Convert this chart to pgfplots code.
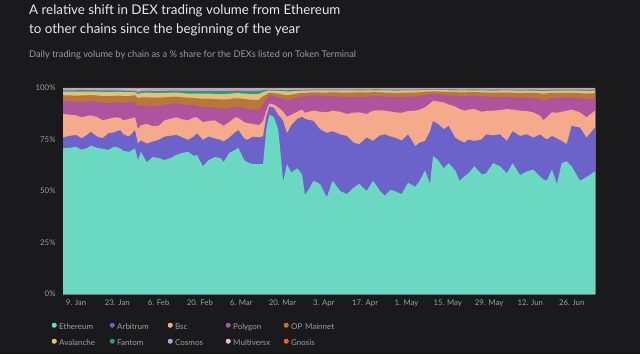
\documentclass[border=0pt]{standalone}
\usepackage{pgfplots}
\pgfplotsset{compat=1.18}
\usepackage{pgfplotstable}
\usepackage{fontspec}
\setmainfont{Lato}
\definecolor{bg}{HTML}{1A1A1C}
\definecolor{titletxt}{HTML}{E8E8E8}
\definecolor{subtxt}{HTML}{9C9C9C}
\definecolor{ticktxt}{HTML}{A0A0A0}
\definecolor{eth}{HTML}{6BD9C2}
\definecolor{arb}{HTML}{6B63C9}
\definecolor{bsc}{HTML}{F5AA8C}
\definecolor{pol}{HTML}{B0539E}
\definecolor{opm}{HTML}{B97838}
\definecolor{ava}{HTML}{E5C07B}
\definecolor{fan}{HTML}{2F9A72}
\definecolor{cos}{HTML}{A3A9E6}
\definecolor{mvx}{HTML}{E9B7DA}
\definecolor{gno}{HTML}{E0663A}
% cumulative upper boundaries (%) of each chain's layer, by day of 2023 (1 Jan = 0)
\pgfplotstableread{
d E A B P O V F C M G
3.6 70.7 76.0 87.4 93.8 96.5 98.3 98.9 99.5 99.85 100
6 71.0 76.8 87.0 93.6 96.4 98.2 98.9 99.5 99.85 100
8 71.5 77.2 86.7 93.4 96.3 98.2 98.9 99.5 99.85 100
10 70.0 75.6 85.8 93.2 96.4 98.3 99.0 99.5 99.85 100
12 71.0 77.5 86.5 93.5 96.5 98.3 99.0 99.5 99.85 100
13 72.0 78.8 86.7 93.8 96.6 98.3 99.0 99.5 99.85 100
15 71.0 76.5 86.0 93.3 96.4 98.2 98.9 99.5 99.85 100
17 70.5 75.6 84.3 92.8 96.1 98.1 98.8 99.5 99.85 100
19 70.0 78.0 85.0 92.6 96.0 98.0 98.8 99.5 99.85 100
21 71.5 78.5 85.8 93.0 96.2 98.1 98.8 99.5 99.85 100
23 70.7 79.6 85.5 93.2 96.3 98.2 98.9 99.5 99.85 100
24 69.5 77.5 84.3 92.6 96.0 98.0 98.7 99.3 99.8 100
26 69.0 76.4 85.0 92.8 96.1 98.0 98.7 99.2 99.8 100
28 70.7 79.6 85.8 93.5 96.5 98.0 98.6 99.4 99.8 100
29 65.0 73.0 80.1 91.0 95.0 97.0 97.8 98.8 99.7 100
30 69.0 74.5 82.0 91.5 95.4 97.6 98.4 99.3 99.8 100
32 64.0 73.0 82.5 91.5 95.5 97.8 98.6 99.4 99.8 100
34 66.5 74.0 81.5 91.3 95.3 97.6 98.5 99.4 99.8 100
36 66.0 74.8 81.7 91.5 95.3 97.5 98.5 99.4 99.8 100
38 65.0 76.4 84.3 92.0 95.5 97.6 98.6 99.4 99.8 100
40 66.0 76.8 85.0 92.3 95.7 97.7 98.7 99.5 99.8 100
42 67.5 77.2 85.8 92.5 95.8 97.8 98.7 99.5 99.8 100
44 68.5 76.0 84.8 92.0 95.5 97.5 98.6 99.5 99.8 100
46 69.0 74.8 84.3 91.8 95.3 97.3 98.6 99.5 99.8 100
48 67.0 76.5 85.8 91.8 95.1 97.3 98.6 99.5 99.8 100
49 67.5 78.0 85.8 91.5 95.0 97.3 98.6 99.5 99.8 100
51 62.0 74.8 83.4 90.5 94.7 97.2 98.5 99.5 99.8 100
53 65.0 76.4 84.0 90.8 94.8 97.3 98.6 99.5 99.8 100
55 66.5 75.5 84.3 90.5 94.6 97.1 98.5 99.5 99.8 100
57 66.0 74.8 82.5 90.0 94.5 97.0 98.5 99.5 99.8 100
58 64.0 74.0 81.7 89.8 94.4 97.0 98.5 99.5 99.8 100
60 68.5 76.0 83.5 90.3 94.6 97.2 98.6 99.5 99.8 100
62 70.0 78.5 85.8 91.0 95.0 97.5 98.7 99.5 99.8 100
63 71.0 79.6 85.5 91.0 95.0 97.5 98.7 99.5 99.8 100
65 65.0 75.5 83.4 90.3 94.7 97.3 98.6 99.5 99.8 100
66 64.0 74.8 83.0 90.0 94.5 97.2 98.6 99.5 99.8 100
68 63.0 76.4 82.5 89.5 94.2 97.0 98.5 99.5 99.8 100
70 63.0 76.0 82.0 89.5 94.3 97.1 98.6 99.5 99.8 100
71.4 63.0 76.5 84.0 92.0 96.0 98.0 98.9 99.5 99.8 100
72.5 80.0 86.0 89.0 94.5 96.8 98.5 99.0 99.6 99.85 100
73.5 87.0 91.0 92.5 96.5 97.8 98.8 99.1 99.6 99.85 100
75 86.0 90.5 92.0 96.0 97.5 98.7 99.1 99.6 99.85 100
76.5 80.0 87.0 90.6 95.5 97.3 98.6 99.0 99.6 99.85 100
77.5 66.0 85.5 89.5 95.0 97.0 98.5 99.0 99.6 99.85 100
78.2 54.5 84.0 88.5 94.5 96.8 98.4 98.9 99.6 99.85 100
79.5 63.0 78.0 86.0 94.0 96.5 98.3 98.9 99.6 99.85 100
81 59.0 82.0 87.0 94.5 96.8 98.4 99.0 99.6 99.85 100
83 61.0 85.0 88.5 95.5 97.3 98.6 99.0 99.6 99.85 100
84.6 58.0 86.0 89.5 96.0 97.6 98.7 99.1 99.6 99.85 100
85.6 48.0 85.0 88.0 95.8 97.5 98.7 99.1 99.6 99.85 100
87 51.0 84.5 88.5 96.2 97.8 98.8 99.2 99.6 99.85 100
88.5 55.0 84.0 89.0 96.5 97.9 98.8 99.2 99.6 99.85 100
90.7 53.4 80.0 88.5 96.3 97.8 98.8 99.2 99.6 99.85 100
93 47.0 78.2 88.2 96.0 97.8 98.8 99.2 99.6 99.85 100
95 55.0 79.0 89.0 96.0 97.9 98.8 99.2 99.6 99.85 100
97.5 50.0 77.5 88.5 95.8 97.8 98.8 99.2 99.6 99.85 100
99.8 48.5 76.7 87.4 95.5 97.7 98.8 99.2 99.6 99.85 100
102 51.5 73.5 88.0 95.6 97.8 98.8 99.2 99.6 99.85 100
104 53.4 72.7 88.2 95.8 97.9 98.9 99.3 99.6 99.85 100
106.5 50.0 75.9 87.4 95.7 97.8 98.8 99.2 99.6 99.85 100
108.7 55.0 74.3 89.0 96.0 98.0 98.9 99.3 99.6 99.85 100
111 50.0 77.0 89.2 96.0 97.9 98.9 99.3 99.6 99.85 100
112.7 47.7 77.5 89.0 95.8 97.8 98.8 99.2 99.6 99.85 100
114.5 50.5 76.5 88.6 95.6 97.7 98.8 99.2 99.6 99.85 100
116 50.0 75.9 88.2 95.5 97.6 98.7 99.2 99.6 99.85 100
118.4 48.5 74.5 88.0 95.6 97.7 98.8 99.2 99.6 99.85 100
120.5 54.0 77.5 88.8 95.8 97.8 98.8 99.2 99.6 99.85 100
123 52.0 71.8 89.0 95.8 97.8 98.8 99.2 99.6 99.85 100
124.5 55.0 73.5 89.5 96.0 97.9 98.9 99.3 99.6 99.85 100
126.3 60.0 74.3 90.6 96.5 98.2 99.0 99.3 99.6 99.85 100
128 53.4 79.0 92.5 97.0 98.3 99.0 99.3 99.6 99.85 100
129 67.0 84.0 93.8 97.2 98.4 99.1 99.4 99.7 99.85 100
130.7 65.0 82.5 93.5 97.0 98.3 99.0 99.3 99.6 99.85 100
132.6 61.0 80.0 93.0 96.8 98.2 99.0 99.3 99.6 99.85 100
134.3 63.5 81.6 92.0 96.5 98.1 98.9 99.3 99.6 99.85 100
136.5 60.0 75.9 91.0 96.3 98.0 98.9 99.3 99.6 99.85 100
138 55.0 74.5 89.8 96.0 97.9 98.8 99.2 99.6 99.85 100
139.6 57.0 73.5 89.0 96.0 97.9 98.8 99.2 99.6 99.85 100
141 58.6 75.0 89.5 96.2 98.0 98.9 99.3 99.6 99.85 100
143 62.0 74.3 89.8 96.3 98.0 98.9 99.3 99.6 99.85 100
145.5 58.0 75.0 88.5 96.0 97.9 98.8 99.2 99.6 99.85 100
147 58.6 77.5 88.8 95.8 97.8 98.8 99.2 99.6 99.85 100
149.4 63.5 77.0 89.0 95.5 97.7 98.7 99.2 99.6 99.85 100
151.7 62.0 77.5 89.3 95.6 97.7 98.8 99.2 99.6 99.85 100
154 58.6 74.3 89.8 95.8 97.8 98.8 99.2 99.6 99.85 100
156 63.5 79.0 89.5 95.5 97.7 98.8 99.2 99.6 99.85 100
158.5 57.7 76.7 89.0 95.3 97.6 98.7 99.1 99.6 99.85 100
160.8 59.5 77.5 88.8 95.5 97.7 98.8 99.2 99.6 99.85 100
163 60.4 75.9 88.2 95.2 97.6 98.7 99.2 99.6 99.85 100
165.3 57.0 77.5 86.5 94.8 97.4 98.6 99.1 99.6 99.85 100
166.5 55.5 76.0 84.3 94.0 97.2 98.5 99.0 99.6 99.85 100
167.6 55.0 75.0 86.0 94.5 97.4 98.6 99.1 99.6 99.85 100
169.3 60.4 76.7 88.2 95.2 97.6 98.7 99.2 99.6 99.85 100
171 53.4 75.5 88.0 95.3 97.6 98.7 99.2 99.6 99.85 100
172.6 63.5 74.3 88.5 95.5 97.7 98.8 99.2 99.6 99.85 100
174.3 64.4 72.7 89.0 95.3 97.6 98.7 99.2 99.6 99.85 100
176 62.0 81.6 89.5 95.5 97.7 98.8 99.2 99.6 99.85 100
178.8 55.0 80.8 88.2 95.0 97.5 98.7 99.2 99.6 99.85 100
181 56.8 75.9 85.8 94.5 97.3 98.6 99.1 99.6 99.85 100
183.9 59.5 80.8 89.0 95.0 97.5 98.7 99.2 99.6 99.85 100
}\shares
\begin{document}
\begin{tikzpicture}[x=1bp,y=1bp]
\fill[bg] (0,0) rectangle (640,354);
\node[anchor=base west, inner sep=0pt, text=titletxt, font=\fontsize{13.4}{16}\selectfont] at (29,340) {A relative shift in DEX trading volume from Ethereum};
\node[anchor=base west, inner sep=0pt, text=titletxt, font=\fontsize{13.4}{16}\selectfont] at (29,321) {to other chains since the beginning of the year};
\node[anchor=base west, inner sep=0pt, text=subtxt, font=\fontsize{9.3}{11}\selectfont] at (29,297) {Daily trading volume by chain as a \% share for the DEXs listed on Token Terminal};
\begin{axis}[
  at={(63bp,60bp)}, anchor=south west,
  scale only axis, width=532bp, height=206bp,
  xmin=3.6, xmax=183.9, ymin=0, ymax=100,
  axis line style={draw=none},
  major tick length=0pt,
  xtick={8,22,36,50,64,78,92,106,120,134,148,162,176},
  xticklabels={9. Jan,23. Jan,6. Feb,20. Feb,6. Mar,20. Mar,3. Apr,17. Apr,1. May,15. May,29. May,12. Jun,26. Jun},
  ytick={0,25,50,75,100},
  yticklabels={0\%,25\%,50\%,75\%,100\%},
  tick label style={font=\fontsize{7.8}{9}\selectfont, text=ticktxt},
  xticklabel style={anchor=center, yshift=-9bp},
  yticklabel style={anchor=east, xshift=-4bp},
  legend columns=5,
  legend cell align=left,
  legend image code/.code={\fill[#1] (0bp,2.5bp) circle (3bp);},
  legend style={at={(axis description cs:-0.0225,-0.136)}, anchor=north west,
    draw=none, fill=none, inner sep=0pt, outer sep=0pt,
    row sep=5bp, column sep=0pt,
    font=\fontsize{8}{9.5}\selectfont, text=ticktxt,
    nodes={text width=48bp, align=left, inner sep=1.8bp, text height=5.5bp, text depth=1.5bp}},
]
\addlegendimage{fill=eth}\addlegendentry{Ethereum}
\addlegendimage{fill=arb}\addlegendentry{Arbitrum}
\addlegendimage{fill=bsc}\addlegendentry{Bsc}
\addlegendimage{fill=pol}\addlegendentry{Polygon}
\addlegendimage{fill=opm}\addlegendentry{OP Mainnet}
\addlegendimage{fill=ava}\addlegendentry{Avalanche}
\addlegendimage{fill=fan}\addlegendentry{Fantom}
\addlegendimage{fill=cos}\addlegendentry{Cosmos}
\addlegendimage{fill=mvx}\addlegendentry{Multiversx}
\addlegendimage{fill=gno}\addlegendentry{Gnosis}
\addplot[fill=gno, draw=none, forget plot] table[x=d, y=G] {\shares} \closedcycle;
\addplot[fill=mvx, draw=none, forget plot] table[x=d, y=M] {\shares} \closedcycle;
\addplot[fill=cos, draw=none, forget plot] table[x=d, y=C] {\shares} \closedcycle;
\addplot[fill=fan, draw=none, forget plot] table[x=d, y=F] {\shares} \closedcycle;
\addplot[fill=ava, draw=none, forget plot] table[x=d, y=V] {\shares} \closedcycle;
\addplot[fill=opm, draw=none, forget plot] table[x=d, y=O] {\shares} \closedcycle;
\addplot[fill=pol, draw=none, forget plot] table[x=d, y=P] {\shares} \closedcycle;
\addplot[fill=bsc, draw=none, forget plot] table[x=d, y=B] {\shares} \closedcycle;
\addplot[fill=arb, draw=none, forget plot] table[x=d, y=A] {\shares} \closedcycle;
\addplot[fill=eth, draw=none, forget plot] table[x=d, y=E] {\shares} \closedcycle;
\end{axis}
\end{tikzpicture}
\end{document}
